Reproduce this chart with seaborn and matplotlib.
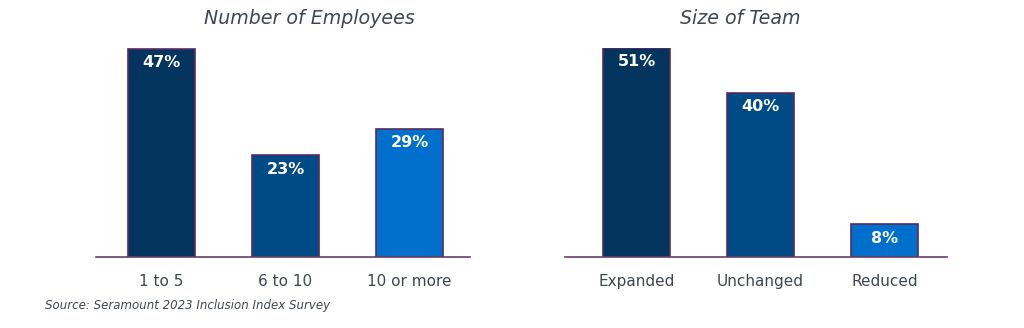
import matplotlib
matplotlib.use("Agg")
import matplotlib.pyplot as plt
import seaborn as sns
import pandas as pd

sns.set_theme(style="white")
plt.rcParams['font.family'] = ['DejaVu Sans']

emp_categories = ["1 to 5", "6 to 10", "10 or more"]
emp_values = [47, 23, 29]
team_categories = ["Expanded", "Unchanged", "Reduced"]
team_values = [51, 40, 8]
bar_colors = ["#03345e", "#004a86", "#0070cc"]
titles = ["Number of Employees", "Size of Team"]
source_text = "Source: Seramount 2023 Inclusion Index Survey"

W, H = 1024, 328
fig = plt.figure(figsize=(W / 100, H / 100), dpi=100)

edge = "#5a2a62"
text_gray = "#3e4650"


def make_ax(x0, x1, cats, vals, xl, ymax):
    ax = fig.add_axes([x0 / W, (H - 257) / H, (x1 - x0) / W, 209 / H])
    df = pd.DataFrame({"cat": cats, "val": vals})
    sns.barplot(data=df, x="cat", y="val", hue="cat", palette=bar_colors,
                width=0.54, edgecolor=edge, linewidth=1.2, legend=False, ax=ax,
                saturation=1)
    ax.set_xlim(*xl)
    ax.set_ylim(0, ymax)
    for s in ["top", "right", "left"]:
        ax.spines[s].set_visible(False)
    ax.spines["bottom"].set_color("#6b3b70")
    ax.spines["bottom"].set_linewidth(1.2)
    ax.set_yticks([])
    ax.set_xlabel("")
    ax.set_ylabel("")
    ax.tick_params(axis="x", length=0, pad=12, labelsize=11, labelcolor=text_gray)
    for i, v in enumerate(vals):
        ax.annotate(f"{v}%", (i, v), xytext=(0, -10), textcoords="offset points",
                    ha="center", va="center", color="white", fontsize=11.5,
                    fontweight="bold")
    return ax


make_ax(96, 470, emp_categories, emp_values, (-0.528, 2.488), 47.2)
make_ax(565, 947, team_categories, team_values, (-0.577, 2.504), 51.0)

fig.text(309 / W, 1 - 19 / H, titles[0], ha="center", va="center",
         fontsize=13.7, style="italic", color=text_gray)
fig.text(740 / W, 1 - 19 / H, titles[1], ha="center", va="center",
         fontsize=13.7, style="italic", color=text_gray)
fig.text(45 / W, 1 - 306 / H, source_text, ha="left", va="center",
         fontsize=8.5, style="italic", color=text_gray)

fig.savefig("out.png", dpi=100, facecolor="white")
